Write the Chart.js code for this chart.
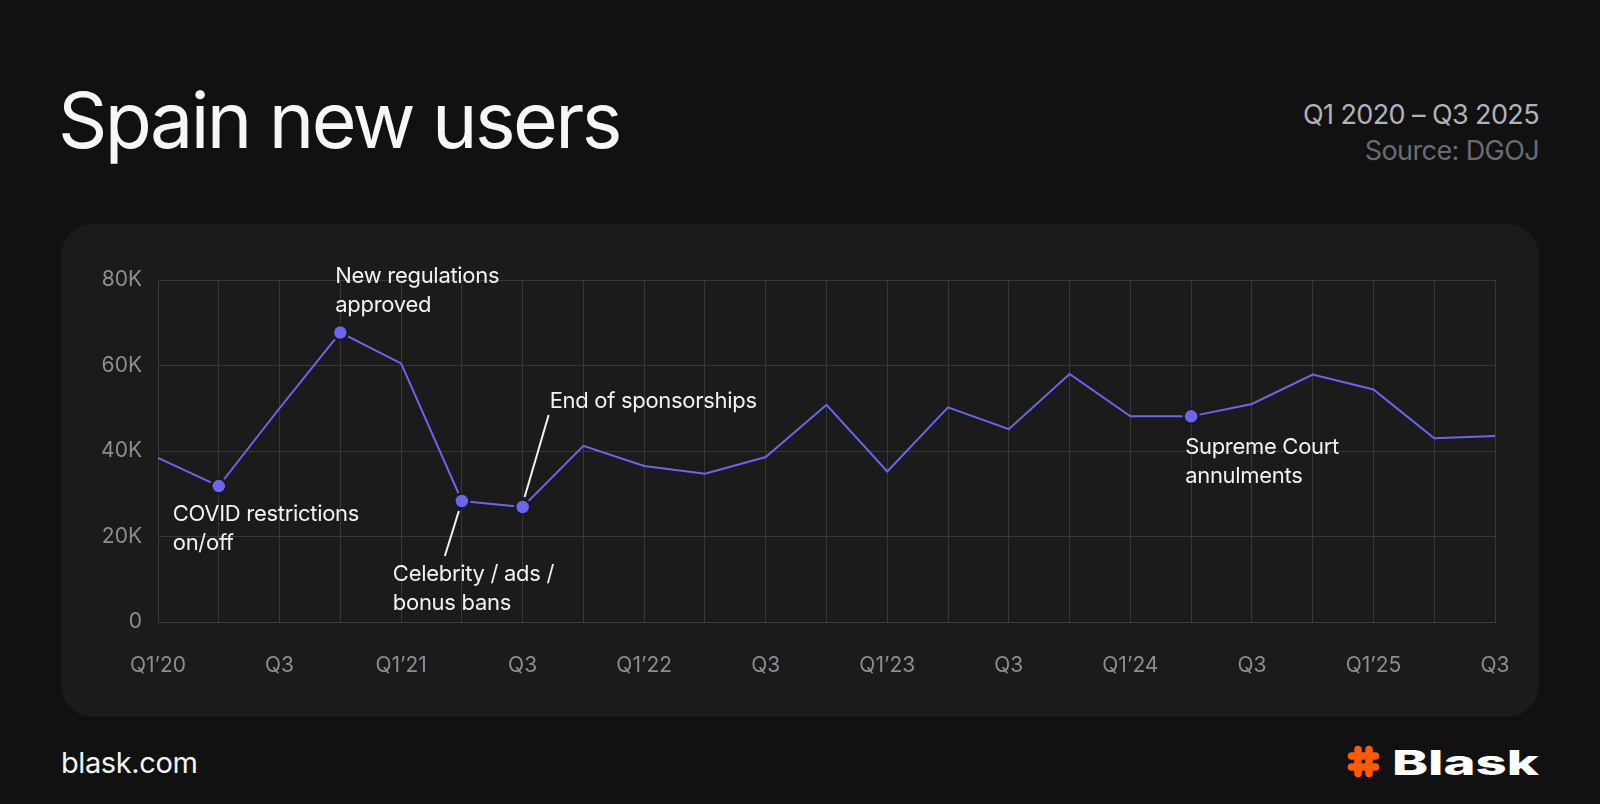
<!DOCTYPE html>
<html>
<head>
<meta charset="utf-8">
<script src="https://cdn.jsdelivr.net/npm/chart.js@4.4.1/dist/chart.umd.min.js"></script>
<style>
html, body { margin: 0; padding: 0; background: #111111; }
body { width: 1600px; height: 804px; position: relative; overflow: hidden; font-family: Inter, "Noto Sans", sans-serif; }
#card { position: absolute; left: 61px; top: 224px; width: 1478px; height: 493px; background: #1b1b1b; border-radius: 32px; }
#title { position: absolute; left: 58px; top: 80px; font-size: 77px; line-height: 80px; letter-spacing: -2.6px; color: #f6f6f4; white-space: nowrap; }
.meta { position: absolute; right: 61px; font-size: 27px; line-height: 27px; letter-spacing: -0.6px; white-space: nowrap; }
#period { top: 101px; color: #b3b2ba; }
#source { top: 137px; color: #6c6b73; }
#site { position: absolute; left: 61px; top: 748px; font-size: 29px; line-height: 29px; letter-spacing: -0.4px; color: #f6f6f4; }
#logo-icon { position: absolute; left: 1347px; top: 745px; }
#logo-text { position: absolute; right: 61px; top: 744px; font-size: 34px; line-height: 38px; font-weight: 800; color: #ffffff;
  display: inline-block; transform: scaleX(1.6); transform-origin: right center; }
#chart { position: absolute; left: 0; top: 0; }
</style>
</head>
<body>
<div id="card"></div>
<div id="title">Spain new users</div>
<div class="meta" id="period">Q1 2020 – Q3 2025</div>
<div class="meta" id="source">Source: DGOJ</div>
<div id="site">blask.com</div>
<svg id="logo-icon" width="33" height="33" viewBox="0 0 33 33">
  <g stroke="#ff5a00" stroke-width="7.5" stroke-linecap="round" fill="none">
    <path d="M11 4.5 L11 28.5"/>
    <path d="M22 4.5 L22 28.5"/>
    <path d="M4.5 11 L28.5 11"/>
    <path d="M4.5 22 L28.5 22"/>
  </g>
</svg>
<div id="logo-text">Blask</div>
<canvas id="chart" width="1600" height="804"></canvas>

<script>
// quarters Q1 2020 .. Q3 2025
const quarters = [
  "Q1 2020", "Q2 2020", "Q3 2020", "Q4 2020",
  "Q1 2021", "Q2 2021", "Q3 2021", "Q4 2021",
  "Q1 2022", "Q2 2022", "Q3 2022", "Q4 2022",
  "Q1 2023", "Q2 2023", "Q3 2023", "Q4 2023",
  "Q1 2024", "Q2 2024", "Q3 2024", "Q4 2024",
  "Q1 2025", "Q2 2025", "Q3 2025"
];
const tickLabels = [
  "Q1’20", "", "Q3", "",
  "Q1’21", "", "Q3", "",
  "Q1’22", "", "Q3", "",
  "Q1’23", "", "Q3", "",
  "Q1’24", "", "Q3", "",
  "Q1’25", "", "Q3"
];
const newUsers = [
  38400, 31800, 50000, 67700,
  60500, 28300, 26900, 41200,
  36500, 34700, 38600, 50800,
  35200, 50200, 45100, 58000,
  48100, 48100, 51000, 57900,
  54400, 43000, 43500
];
const yTicks = [0, 20000, 40000, 60000, 80000];

// annotated events: index into quarters, text lines
const eventIdx = [1, 3, 5, 6, 17];
const eventText = [
  ["COVID restrictions", "on/off"],
  ["New regulations", "approved"],
  ["Celebrity / ads /", "bonus bans"],
  ["End of sponsorships"],
  ["Supreme Court", "annulments"]
];

const lineColor = "#6966f2";
const cardColor = "#1b1b1b";

// label offsets relative to the marker (px), and optional leader lines
const labelOffset = [[-46, 35], [-5, -50], [-69, 80], [27, -99], [-6, 38]];
const leaderLine = [null, null, [-17, 55, -3, 10], [26, -92, 2, -10], null];

const annotations = {
  id: "annotations",
  afterDatasetsDraw(chart) {
    const ctx = chart.ctx;
    const xs = chart.scales.x, ys = chart.scales.y;
    ctx.save();
    ctx.font = "22px Inter, 'Noto Sans', sans-serif";
    ctx.letterSpacing = "-0.3px";
    ctx.fillStyle = "#f2f2f2";
    ctx.strokeStyle = "#f2f2f2";
    ctx.lineWidth = 2;
    ctx.textAlign = "left";
    ctx.textBaseline = "alphabetic";
    eventIdx.forEach((idx, k) => {
      const px = xs.getPixelForValue(idx);
      const py = ys.getPixelForValue(newUsers[idx]);
      const off = labelOffset[k];
      eventText[k].forEach((line, j) => {
        ctx.fillText(line, px + off[0], py + off[1] + j * 29);
      });
      const ll = leaderLine[k];
      if (ll) {
        ctx.beginPath();
        ctx.moveTo(px + ll[0], py + ll[1]);
        ctx.lineTo(px + ll[2], py + ll[3]);
        ctx.stroke();
      }
    });
    ctx.restore();
  }
};

new Chart(document.getElementById("chart"), {
  type: "line",
  data: {
    labels: quarters,
    datasets: [{
      data: newUsers,
      borderColor: lineColor,
      borderWidth: 2,
      tension: 0,
      pointRadius: newUsers.map((v, i) => eventIdx.includes(i) ? 7.5 : 0),
      pointBackgroundColor: lineColor,
      pointBorderColor: cardColor,
      pointBorderWidth: 2.5,
      pointHoverRadius: 0
    }]
  },
  options: {
    responsive: false,
    animation: false,
    devicePixelRatio: 1,
    layout: { padding: { left: 0, top: 280, right: 105, bottom: 122 } },
    plugins: { legend: { display: false }, tooltip: { enabled: false } },
    scales: {
      x: {
        grid: { color: "#383838", lineWidth: 1, drawTicks: false },
        border: { color: "#3a3a3a", width: 1 },
        ticks: {
          autoSkip: false,
          maxRotation: 0,
          padding: 31,
          color: "#8e8d96",
          font: { family: "Inter", size: 21 },
          callback: (v, i) => tickLabels[i]
        },
        afterFit: s => { s.height = 60; }
      },
      y: {
        min: 0,
        max: 80000,
        afterBuildTicks: s => { s.ticks = yTicks.map(v => ({ value: v })); },
        grid: { color: "#383838", lineWidth: 1, drawTicks: false },
        border: { display: false },
        ticks: {
          padding: 16,
          color: "#8e8d96",
          font: { family: "Inter", size: 21 },
          callback: v => v === 0 ? "0" : (v / 1000) + "K"
        },
        afterFit: s => { s.width = 158; }
      }
    }
  },
  plugins: [annotations]
});
</script>
</body>
</html>
